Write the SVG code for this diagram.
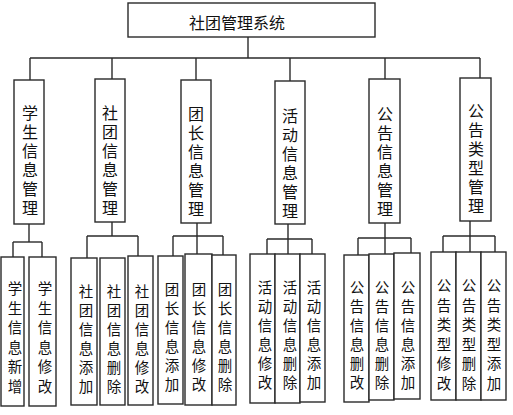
<svg xmlns="http://www.w3.org/2000/svg" width="513" height="415" viewBox="0 0 513 415">
<style>
rect{fill:#fff;stroke:#2a2a2a;stroke-width:1.4}
.c line{stroke:#2a2a2a;stroke-width:1.4}
text{font-family:"Noto Sans CJK SC","Noto Sans",sans-serif;fill:#111}
.tt{font-size:16px;dominant-baseline:central}
.t1{font-size:16px;writing-mode:vertical-rl;letter-spacing:3px}
.t2{font-size:14.5px;writing-mode:vertical-rl;letter-spacing:4.5px}
.t2b{font-size:14.5px;writing-mode:vertical-rl;letter-spacing:5px}
</style>
<rect width="513" height="415" style="fill:#fff;stroke:none"/>
<g class="c" id="connectors">
<line x1="248" y1="37" x2="248" y2="58"/>
<line x1="30" y1="58" x2="480" y2="58"/>
<line x1="30" y1="58" x2="30" y2="80"/>
<line x1="112" y1="58" x2="112" y2="79"/>
<line x1="196" y1="58" x2="196" y2="80"/>
<line x1="290" y1="58" x2="290" y2="81"/>
<line x1="385" y1="58" x2="385" y2="79"/>
<line x1="480" y1="58" x2="480" y2="78"/>
<line x1="29" y1="224" x2="29" y2="242"/>
<line x1="13" y1="242" x2="42" y2="242"/>
<line x1="13" y1="242" x2="13" y2="257"/>
<line x1="42" y1="242" x2="42" y2="257"/>
<line x1="112" y1="222" x2="112" y2="236"/>
<line x1="87" y1="236" x2="138" y2="236"/>
<line x1="87" y1="236" x2="87" y2="258"/>
<line x1="138" y1="236" x2="138" y2="256"/>
<line x1="197" y1="223" x2="197" y2="254"/>
<line x1="173" y1="236" x2="223" y2="236"/>
<line x1="173" y1="236" x2="173" y2="256"/>
<line x1="223" y1="236" x2="223" y2="255"/>
<line x1="288" y1="224" x2="288" y2="254"/>
<line x1="267" y1="239" x2="312" y2="239"/>
<line x1="267" y1="239" x2="267" y2="254"/>
<line x1="312" y1="239" x2="312" y2="254"/>
<line x1="385" y1="223" x2="385" y2="254"/>
<line x1="358" y1="238" x2="411" y2="238"/>
<line x1="358" y1="238" x2="358" y2="255"/>
<line x1="411" y1="238" x2="411" y2="253"/>
<line x1="470" y1="221" x2="470" y2="252"/>
<line x1="443" y1="236" x2="495" y2="236"/>
<line x1="443" y1="236" x2="443" y2="252"/>
<line x1="495" y1="236" x2="495" y2="252"/>
</g>
<g id="root"><rect x="128" y="3" width="247" height="34"/><text class="tt" x="189" y="22">社团管理系统</text></g>
<g id="n1"><rect x="14" y="80" width="30" height="144"/><text class="t1" x="30" y="105">学生信息管理</text></g>
<g id="n2"><rect x="95" y="79" width="30" height="143"/><text class="t1" x="110" y="105">社团信息管理</text></g>
<g id="n3"><rect x="181" y="80" width="30" height="143"/><text class="t1" x="196" y="106">团长信息管理</text></g>
<g id="n4"><rect x="275" y="81" width="30" height="143"/><text class="t1" x="290" y="108">活动信息管理</text></g>
<g id="n5"><rect x="369" y="79" width="31" height="144"/><text class="t1" x="385" y="106">公告信息管理</text></g>
<g id="n6"><rect x="460" y="78" width="31" height="143"/><text class="t1" x="476" y="103">公告类型管理</text></g>
<g id="a1"><rect x="1" y="257" width="23" height="149"/><text class="t2b" x="15" y="281.5">学生信息新增</text></g>
<g id="a2"><rect x="29" y="257" width="27" height="149"/><text class="t2b" x="45" y="281.5">学生信息修改</text></g>
<g id="b1"><rect x="71" y="258" width="26" height="147"/><text class="t2" x="86" y="284.5">社团信息添加</text></g>
<g id="b2"><rect x="100" y="258" width="25" height="147"/><text class="t2" x="114" y="284.5">社团信息删除</text></g>
<g id="b3"><rect x="128" y="256" width="25" height="149"/><text class="t2" x="142" y="284.5">社团信息修改</text></g>
<g id="c1"><rect x="158" y="256" width="25" height="148"/><text class="t2" x="172" y="282.5">团长信息添加</text></g>
<g id="c2"><rect x="185" y="254" width="27" height="151"/><text class="t2" x="199" y="282.5">团长信息修改</text></g>
<g id="c3"><rect x="212" y="255" width="24" height="150"/><text class="t2" x="225" y="282.5">团长信息删除</text></g>
<g id="d1"><rect x="250" y="254" width="25" height="149"/><text class="t2" x="265" y="280.5">活动信息修改</text></g>
<g id="d2"><rect x="275" y="254" width="25" height="149"/><text class="t2" x="290" y="280.5">活动信息删除</text></g>
<g id="d3"><rect x="300" y="254" width="25" height="148"/><text class="t2" x="314" y="280.5">活动信息添加</text></g>
<g id="e1"><rect x="344" y="255" width="25" height="147"/><text class="t2" x="357" y="280.5">公告信息删改</text></g>
<g id="e2"><rect x="369" y="254" width="25" height="146"/><text class="t2" x="382" y="280.5">公告信息删除</text></g>
<g id="e3"><rect x="394" y="253" width="26" height="146"/><text class="t2" x="408" y="280.5">公告信息添加</text></g>
<g id="f1"><rect x="431" y="252" width="25" height="148"/><text class="t2b" x="444" y="278.5">公告类型修改</text></g>
<g id="f2"><rect x="456" y="252" width="25" height="148"/><text class="t2b" x="469" y="278.5">公告类型删除</text></g>
<g id="f3"><rect x="481" y="252" width="25" height="148"/><text class="t2b" x="494" y="278.5">公告类型添加</text></g>
</svg>
